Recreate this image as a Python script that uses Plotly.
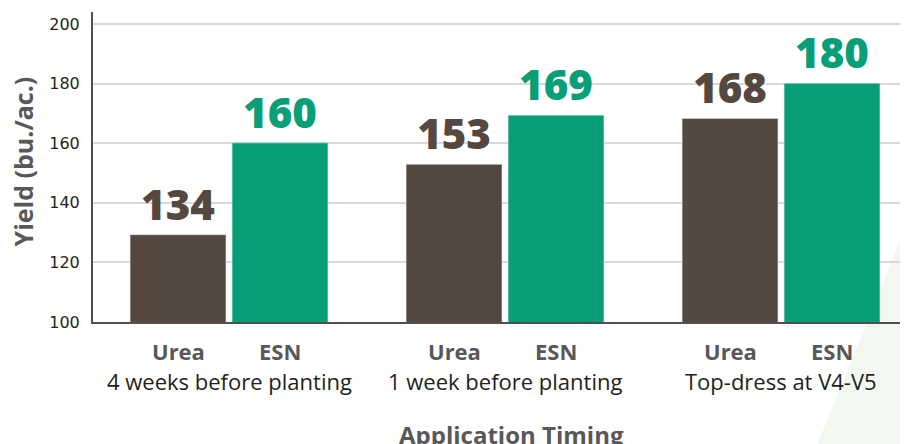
import plotly.graph_objects as go

groups = ["4 weeks before planting", "1 week before planting", "Top-dress at V4-V5"]
products = ["Urea", "ESN"]
urea_bar = [129.3, 152.9, 168.3]
esn_bar = [160.1, 169.4, 180.1]
urea_labels = ["134", "153", "168"]
esn_labels = ["160", "169", "180"]
y_ticks = [100, 120, 140, 160, 180, 200]

BROWN = "#54483F"
GREEN = "#089E77"
FONT = "Open Sans"
BARGAP = 0.261
GROUPGAP = 0.06

x_idx = list(range(len(groups)))

fig = go.Figure()
fig.add_trace(go.Bar(x=x_idx, y=urea_bar, name=products[0], marker_color=BROWN,
                     text=urea_labels, textposition="outside", cliponaxis=False,
                     textfont=dict(family=FONT, size=42, color=BROWN, weight=800)))
fig.add_trace(go.Bar(x=x_idx, y=esn_bar, name=products[1], marker_color=GREEN,
                     text=esn_labels, textposition="outside", cliponaxis=False,
                     textfont=dict(family=FONT, size=42, color=GREEN, weight=800)))

slot = (1 - BARGAP) / 2
annotations = []
for i, g in enumerate(groups):
    for j, p in enumerate(products):
        annotations.append(dict(x=i + (j - 0.5) * slot, y=0, xref="x", yref="paper",
                                text=p, showarrow=False, yanchor="middle", yshift=-29,
                                font=dict(family=FONT, size=22, color="#585858", weight=700)))
    annotations.append(dict(x=i, y=0, xref="x", yref="paper", text=g, showarrow=False,
                            yanchor="middle", yshift=-59,
                            font=dict(family=FONT, size=22, color="#231F20")))
annotations.append(dict(x=0.513, y=0, xref="paper", yref="paper", text="Application Timing",
                        showarrow=False, yanchor="middle", yshift=-112,
                        font=dict(family=FONT, size=24, color="#585858", weight=700)))
annotations.append(dict(x=0, y=0.518, xref="paper", yref="paper", text="Yield (bu./ac.)",
                        showarrow=False, textangle=-90, xanchor="center", yanchor="middle",
                        xshift=-70, font=dict(family=FONT, size=25, color="#585858", weight=700)))

fig.update_layout(
    width=908, height=444,
    margin=dict(l=85, r=8, t=4, b=130, autoexpand=False),
    paper_bgcolor="white", plot_bgcolor="rgba(0,0,0,0)",
    barmode="group", bargap=BARGAP, bargroupgap=GROUPGAP,
    showlegend=False,
    annotations=annotations,
    shapes=[dict(type="path", xref="paper", yref="paper",
                 path="M 1.01 0.39 L 1.01 -0.4 L 0.888 -0.4 Z",
                 fillcolor="#F2F7F0", line=dict(width=0), layer="below")],
    font=dict(family=FONT),
)
fig.update_xaxes(range=[-0.4928, 2.46], showticklabels=False, showgrid=False, zeroline=False,
                 showline=True, linecolor="#505050", linewidth=2, ticks="")
fig.update_yaxes(range=[100, 204], tickvals=y_ticks, showgrid=True, gridcolor="#D9D9D9",
                 gridwidth=1.5, zeroline=False, showline=True, linecolor="#505050", linewidth=2,
                 ticks="", ticklabelstandoff=8,
                 tickfont=dict(family="DejaVu Sans", size=16, color="#231F20"))

fig.write_html("out.html")
